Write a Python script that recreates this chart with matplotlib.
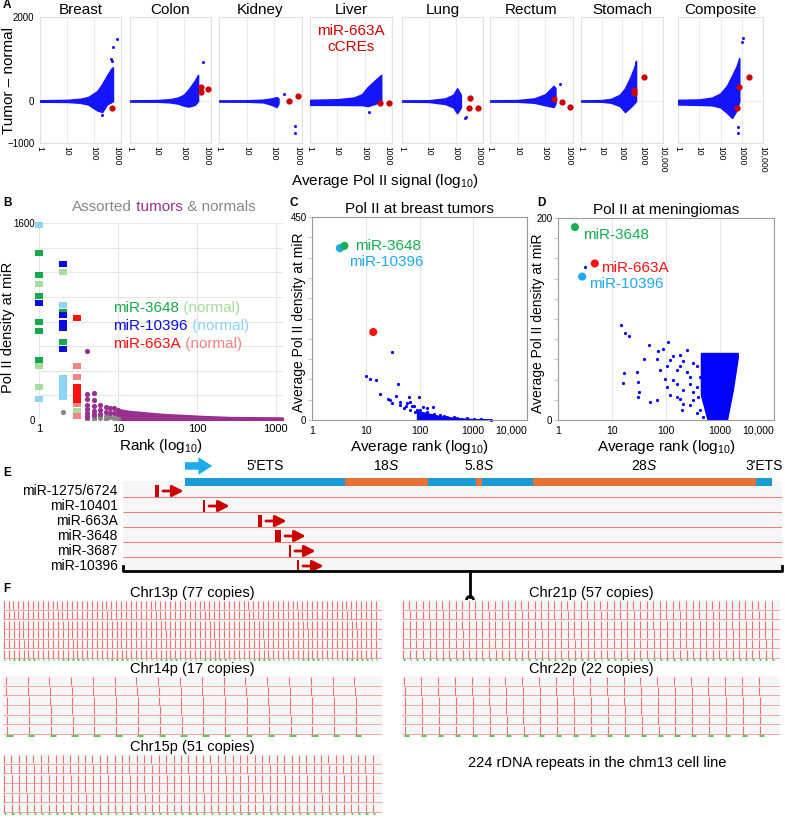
import numpy as np
import matplotlib
matplotlib.use('Agg')
import matplotlib.pyplot as plt
from matplotlib.patches import Rectangle, Arc
from matplotlib.ticker import NullLocator
import matplotlib.transforms as mtransforms

plt.rcParams['font.family'] = ['Liberation Sans', 'DejaVu Sans']
plt.rcParams['mathtext.fontset'] = 'custom'
plt.rcParams['mathtext.rm'] = 'Liberation Sans'
plt.rcParams['mathtext.it'] = 'Liberation Sans:italic'

# ---------------- data ----------------
# A: tumor - normal vs average Pol II signal (cloud envelopes + outliers + miR-663A cCREs)
tissues = ['Breast', 'Colon', 'Kidney', 'Liver', 'Lung', 'Rectum', 'Stomach', 'Composite']
a_xmax = [1000, 1000, 1000, 1000, 1000, 1000, 10000, 10000]

breast_x = [1, 10, 30, 60, 130, 200, 300, 450, 500]
breast_hi = [15, 25, 50, 90, 230, 400, 600, 780, 800]
breast_lo = [-15, -20, -40, -80, -220, -260, -80, -20, 0]
colon_x = [1, 10, 30, 60, 100, 150, 250, 330]
colon_hi = [12, 20, 40, 80, 150, 280, 480, 620]
colon_lo = [-12, -15, -30, -60, -110, -130, -90, 0]
kidney_x = [1, 10, 40, 80, 120, 140]
kidney_hi = [12, 15, 30, 60, 90, 60]
kidney_lo = [-12, -15, -30, -90, -140, -60]
liver_x = [1, 10, 40, 80, 130, 250, 400]
liver_hi = [25, 40, 80, 160, 330, 500, 620]
liver_lo = [-90, -90, -95, -95, -120, -60, 0]
lung_x = [1, 10, 40, 80, 110, 150]
lung_hi = [12, 15, 60, 150, 300, 150]
lung_lo = [-12, -20, -70, -150, -290, -150]
rectum_x = [1, 10, 40, 100, 200, 230]
rectum_hi = [12, 20, 60, 160, 360, 300]
rectum_lo = [-12, -15, -40, -100, -140, -60]
stomach_x = [1, 10, 30, 80, 140, 250, 400, 480]
stomach_hi = [12, 20, 50, 150, 300, 550, 800, 950]
stomach_lo = [-12, -15, -40, -120, -260, -150, -50, 0]
composite_x = [1, 10, 40, 100, 200, 350, 600, 760]
composite_hi = [25, 35, 80, 180, 360, 600, 850, 1020]
composite_lo = [-80, -90, -100, -150, -280, -400, -200, 0]

cloud_x = [breast_x, colon_x, kidney_x, liver_x, lung_x, rectum_x, stomach_x, composite_x]
cloud_hi = [breast_hi, colon_hi, kidney_hi, liver_hi, lung_hi, rectum_hi, stomach_hi, composite_hi]
cloud_lo = [breast_lo, colon_lo, kidney_lo, liver_lo, lung_lo, rectum_lo, stomach_lo, composite_lo]

outlier_x = [[420, 450, 520, 700, 200], [500], [215, 540, 580], [140], [215, 235], [330], [],
             [670, 700, 1000, 1100]]
outlier_y = [[1000, 960, 1280, 1480, -330], [930], [160, -600, -760], [-260], [-400, -380], [400], [],
             [-620, -760, 1400, 1500]]
ccre_x = [[450], [420, 420, 780], [330, 710], [360, 780], [330, 300, 650], [200, 390, 770],
          [1200, 390, 390], [2100, 760, 580]]
ccre_y = [[-160], [330, 210, 285], [0, 115], [-50, -50], [75, -160, -160], [40, -20, -140],
          [580, 260, 190], [580, 330, -170]]

# B: Pol II density at miR vs rank
b3648_rank = [1, 1, 1, 1, 1, 1, 2, 2]
b3648_val = [1355, 1177, 1007, 796, 723, 487, 877, 633]
b3648n_rank = [1, 1, 1, 2, 3]
b3648n_val = [1104, 438, 268, 1202, 73]
b10396_rank = [1, 2, 2, 2, 2, 2]
b10396_val = [950, 1267, 850, 790, 747, 576]
b10396n_rank = [1, 1, 2, 2, 2, 2, 2, 2]
b10396n_val = [1580, 170, 934, 340, 300, 260, 220, 190]
b663_rank = [3, 3, 3, 3, 3]
b663_val = [828, 268, 230, 195, 162]
b663n_rank = [3, 3, 3, 3]
b663n_val = [438, 349, 130, 32]
other_t_rank = [4, 4, 4, 4, 4, 4, 4, 5, 5, 5, 5, 5, 6, 6, 6, 7, 7, 8, 8, 9, 9, 10, 10]
other_t_val = [560, 211, 170, 122, 89, 57, 24, 219, 162, 114, 73, 41, 122, 81, 49, 105, 65, 97, 57, 97, 57, 81, 45]
other_n_rank = [2, 4, 4, 4, 5, 5, 5, 6, 6, 7, 7, 8, 9, 10]
other_n_val = [65, 40, 25, 10, 45, 28, 12, 35, 15, 30, 12, 25, 20, 18]
tail_rank = [10, 14, 37, 120, 260, 1200]
tail_hi = [80, 65, 41, 24, 16, 12]

# C: breast tumors
c_rank = [10.2, 12.1, 15.7, 18.1, 31.2, 39.3, 25.5, 27.9, 37, 31, 44, 59, 96, 74, 181, 104, 139, 245,
          437, 780, 1380, 2120, 68, 52, 84, 118, 165, 330, 44, 55, 78, 90, 112, 139, 150, 185, 214,
          284, 350, 505, 580, 1030, 68, 63]
c_val = [98, 90, 89, 57, 151, 80, 47, 44, 53, 37, 33, 38, 50, 31, 28, 22, 18, 11,
         7, 4, 2, 0, 22, 26, 18, 29, 11, 6, 41, 30, 30, 22, 15, 26, 7, 13, 7,
         9, 4, 4, 1.5, 1.5, 41, 52]
c_band_rank = [90, 150, 250, 500, 1000, 2100]
c_band_hi = [20, 14, 8, 4, 2, 1]
c_mir_rank = [3.3, 4.0, 13.8]
c_mir_val = [381, 386, 195]

# D: meningiomas
d_rank = [3.16, 14.5, 17.4, 20.4, 48.4, 16.7, 15.8, 28.7, 30.8, 31.3, 30.8, 39.6, 67, 72, 89, 110,
          50.6, 67, 96, 103, 158, 208, 118, 182, 240, 318, 277, 370, 318, 426, 158, 118, 195,
          136, 182, 208, 158, 240, 136, 277, 208, 318, 182, 277, 370, 490, 103, 77, 370, 426, 390,
          458, 490]
d_val = [151, 94, 86, 83, 74, 47, 37, 48, 38, 28, 23, 60, 60, 68, 70, 77,
         18, 20, 41, 33, 23, 16, 59, 53, 69, 56, 43, 33, 20, 10, 36, 25, 10,
         63, 64, 58, 50, 48, 40, 36, 30, 28, 21, 15, 7, 3, 53, 50, 53, 43, 23,
         61, 35]
d_block_rank = [450, 600, 1320, 1700, 2100]
d_block_lo = [25, 0, 0, 30, 62]
d_block_hi = [66, 66, 66, 66, 66]
d_mir_rank = [2.06, 4.8, 2.8]
d_mir_val = [191, 155, 142]

# E: rDNA unit (bp) and miR positions relative to TSS
seg_names = ["5'ETS", r'18$\mathit{S}$', '', r'5.8$\mathit{S}$', '', r'28$\mathit{S}$', "3'ETS"]
seg_len = [3656, 1869, 1095, 157, 1155, 5070, 361]
mir_names = ['miR-1275/6724', 'miR-10401', 'miR-663A', 'miR-3648', 'miR-3687', 'miR-10396']
mir_pos = [-683, 421, 1663, 2050, 2380, 2563]
mir_len = [90, 35, 90, 140, 35, 35]

# F: rDNA copies per chromosome arm (chm13)
chr_names = ['Chr13p', 'Chr14p', 'Chr15p', 'Chr21p', 'Chr22p']
chr_copies = [77, 17, 51, 57, 22]
REPEAT_BP = 44838
UNIT_BP = 13363

# ---------------- colours ----------------
BLUE = '#1414ff'
RED = '#cc0000'
GREEN = '#16a84a'
LGREEN = '#a6dd9c'
DBLUE = '#0a0ae6'
LBLUE = '#8fd3f5'
BRED = '#ff1010'
PINK = '#f78484'
PURPLE = '#99308f'
GRAY = '#888888'
CYAN = '#1eaaee'

W, H = 785, 818
fig = plt.figure(figsize=(W / 100, H / 100), dpi=100)


def box(l, t, r, b):
    return [l / W, 1 - b / H, (r - l) / W, (b - t) / H]


def tick_label(v):
    return '10,000' if v == 10000 else str(v)


# ---------------- A ----------------
a_left = [40, 130, 219, 310, 402, 490, 581, 678]
a_right = [121, 211, 302, 392, 483, 573, 663, 763]
for i, name in enumerate(tissues):
    ax = fig.add_axes(box(a_left[i], 17, a_right[i], 143))
    ax.set_xscale('log')
    ax.set_xlim(1, a_xmax[i])
    ax.set_ylim(-1000, 2000)
    ax.fill_between(cloud_x[i], cloud_lo[i], cloud_hi[i], color=BLUE, lw=1.2, zorder=3)
    ax.plot(outlier_x[i], outlier_y[i], 'o', ms=2.2, color=BLUE, mec='none', zorder=3)
    ax.plot(ccre_x[i], ccre_y[i], 'o', ms=4.5, color=RED, mec='none', zorder=4, clip_on=False)
    ticks = [1, 10, 100, 1000] + ([10000] if a_xmax[i] > 1000 else [])
    ax.set_xticks(ticks)
    ax.set_xticklabels([tick_label(t) for t in ticks], rotation=-90, fontsize=6.2)
    if a_xmax[i] == 1000:
        ax.get_xticklabels()[-1].set_ha('right')
    ax.xaxis.set_minor_locator(NullLocator())
    ax.set_yticks([-1000, 0, 2000])
    if i == 0:
        ax.set_yticklabels(['\u22121000', '0', '2000'], fontsize=7)
        ax.set_ylabel('Tumor \u2013 normal', fontsize=11)
        ax.yaxis.set_label_coords(-0.30, 0.5)
    else:
        ax.set_yticklabels([])
    ax.tick_params(axis='x', length=0, pad=2)
    ax.tick_params(axis='y', length=0, pad=4)
    ax.grid(True, color='#ebebeb', lw=0.8)
    ax.set_axisbelow(True)
    for s in ax.spines.values():
        s.set_color('#e2e2e2')
    ax.set_title(name, fontsize=11, pad=1.5)
    if name == 'Liver':
        ax.text(0.5, 0.825, 'miR-663A\ncCREs', transform=ax.transAxes, ha='center', va='center',
                color=RED, fontsize=11, linespacing=1.25)

fig.text(385 / W, 1 - 181 / H, r'Average Pol II signal (log$_{10}$)', ha='center', va='center', fontsize=11)

# ---------------- B ----------------
axB = fig.add_axes(box(39, 223, 283, 420))
axB.set_xscale('log')
axB.set_xlim(1, 1230)
axB.set_ylim(0, 1600)
rect = [(-1, -0.75), (1, -0.75), (1, 0.75), (-1, 0.75), (-1, -0.75)]
axB.fill_between(tail_rank, 0, tail_hi, color=PURPLE, lw=2.5, zorder=3)
axB.scatter(other_n_rank, other_n_val, s=14, color=GRAY, lw=0, zorder=3)
axB.scatter(other_t_rank, other_t_val, s=14, color=PURPLE, lw=0, zorder=4)
for rk, vl, col in [(b3648n_rank, b3648n_val, LGREEN), (b10396n_rank, b10396n_val, LBLUE),
                    (b663n_rank, b663n_val, PINK), (b3648_rank, b3648_val, GREEN),
                    (b10396_rank, b10396_val, DBLUE), (b663_rank, b663_val, BRED)]:
    axB.scatter(rk, vl, s=40, marker=rect, color=col, lw=0, zorder=5, clip_on=False)
axB.set_xticks([1, 10, 100, 1000])
axB.set_xticklabels(['1', '10', '100', '1000'], fontsize=8)
axB.xaxis.set_minor_locator(NullLocator())
axB.set_yticks(range(0, 1601, 200))
axB.set_yticklabels(['0'] + [''] * 7 + ['1600'], fontsize=7)
axB.tick_params(length=0, pad=3)
axB.grid(True, color='#e6e6e6', lw=0.8)
axB.set_axisbelow(True)
for s in axB.spines.values():
    s.set_visible(False)
axB.set_xlabel(r'Rank (log$_{10}$)', fontsize=11, labelpad=2)
axB.set_ylabel('Pol II density at miR', fontsize=10.5)
axB.yaxis.set_label_coords(-0.098, 0.47)

t = fig.text(72 / W, 1 - 211 / H, 'Assorted', color=GRAY, fontsize=11, va='baseline')
t = axB.annotate(' tumors', xy=(1, 0), xycoords=t, va='bottom', color=PURPLE, fontsize=11)
axB.annotate(' & normals', xy=(1, 0), xycoords=t, va='bottom', color=GRAY, fontsize=11)

for (lab, c1, c2, yb) in [('miR-3648', GREEN, LGREEN, 312), ('miR-10396', DBLUE, LBLUE, 330),
                          ('miR-663A', BRED, PINK, 348)]:
    t = fig.text(113 / W, 1 - yb / H, lab, color=c1, fontsize=11, va='baseline')
    axB.annotate(' (normal)', xy=(1, 0), xycoords=t, va='bottom', color=c2, fontsize=11)


# ---------------- C & D ----------------
def rank_axes(rect_px, ymax, ystep, title, ylab_x):
    ax = fig.add_axes(box(*rect_px))
    ax.set_xscale('log')
    ax.set_xlim(1, 10000)
    ax.set_ylim(0, ymax)
    ax.set_xticks([1, 10, 100, 1000, 10000])
    ax.set_xticklabels(['1', '10', '100', '1000', '10,000'], fontsize=7.5)
    ax.get_xticklabels()[-1].set_ha('right')
    ax.xaxis.set_minor_locator(NullLocator())
    yt = np.arange(0, ymax + 1, ystep)
    ax.set_yticks(yt)
    ax.set_yticklabels(['0'] + [''] * (len(yt) - 2) + [str(ymax)], fontsize=7)
    ax.tick_params(axis='y', length=3, color='#c8c8c8', pad=1)
    ax.tick_params(axis='x', length=0, pad=4)
    ax.grid(True, axis='x', color='#e6e6e6', lw=0.8)
    ax.set_axisbelow(True)
    for s in ax.spines.values():
        s.set_color('#9a9a9a')
    ax.set_title(title, fontsize=11, pad=3)
    ax.set_xlabel(r'Average rank (log$_{10}$)', fontsize=11, labelpad=2)
    ax.set_ylabel('Average Pol II density at miR', fontsize=10)
    ax.yaxis.set_label_coords(ylab_x, 0.48)
    return ax


axC = rank_axes((312, 217, 527, 420), 450, 45, 'Pol II at breast tumors', -0.03)
axC.fill_between(c_band_rank, 0, c_band_hi, color='#0000ff', lw=1)
axC.plot(c_rank, c_val, 'o', ms=2.3, color='#0000ff', mec='none', clip_on=False)
axC.scatter(c_mir_rank, c_mir_val, s=34, color=[CYAN, '#14b050', BRED], lw=0, zorder=4)
axC.text(6.3, 386, 'miR-3648', color='#14b050', fontsize=11, va='center')
axC.text(4.9, 351, 'miR-10396', color=CYAN, fontsize=11, va='center')

axD = rank_axes((558, 218, 774, 420), 200, 20, 'Pol II at meningiomas', -0.058)
axD.fill_between(d_block_rank, d_block_lo, d_block_hi, color='#0000ff', lw=1.5)
axD.plot(d_rank, d_val, 'o', ms=2.3, color='#0000ff', mec='none')
axD.scatter(d_mir_rank, d_mir_val, s=34, color=['#14b050', BRED, CYAN], lw=0, zorder=4)
axD.text(2.9, 183, 'miR-3648', color='#14b050', fontsize=11, va='center')
axD.text(6.4, 150, 'miR-663A', color=BRED, fontsize=11, va='center')
axD.text(3.7, 135, 'miR-10396', color=CYAN, fontsize=11, va='center')

# ---------------- E ----------------
axE = fig.add_axes(box(123, 455, 782, 572))
axE.set_xlim(-1412, 13600)
axE.set_ylim(5.4, -2.4)
axE.axis('off')
axE.add_patch(Rectangle((-1412, -0.67), 15012, 6.07, color='#f6f6f6', lw=0, zorder=0))
axE.hlines(np.arange(len(mir_names) - 1) + 0.4, -1412, 13600, color='#ee8080', lw=0.8, zorder=1)
starts = np.concatenate([[0], np.cumsum(seg_len)[:-1]])
seg_cols = ['#1a9ad6' if k % 2 == 0 else '#e97133' for k in range(len(seg_len))]
axE.barh(-0.6, seg_len, left=starts, height=0.55, color=seg_cols, lw=0, zorder=2)
for name, st, ln in zip(seg_names, starts, seg_len):
    if name:
        axE.text(st + ln / 2, -1.7, name, ha='center', va='center', fontsize=10)
axE.annotate('', xy=(620, -1.67), xytext=(0, -1.67),
             arrowprops=dict(arrowstyle='simple,head_width=1.4,head_length=1.1,tail_width=0.6',
                             color='#1eaaee', lw=0, shrinkA=0, shrinkB=0, mutation_scale=9))
trans = mtransforms.blended_transform_factory(axE.transAxes, axE.transData)
for r, (name, pos, ln) in enumerate(zip(mir_names, mir_pos, mir_len)):
    axE.add_patch(Rectangle((pos, r - 0.4), ln, 0.8, color=RED, lw=0, zorder=3))
    a0 = pos + ln + 90
    axE.annotate('', xy=(a0 + 470, r), xytext=(a0, r),
                 arrowprops=dict(arrowstyle='-|>,head_width=0.28,head_length=0.55', color=RED, lw=2,
                                 shrinkA=0, shrinkB=0, mutation_scale=12))
    axE.text(-0.008, r, name, transform=trans, ha='right', va='center', fontsize=10)

# ---------------- F ----------------
f_boxes = [(3, 600, 382, 661), (3, 676, 382, 737), (3, 754, 382, 815),
           (402, 600, 780, 661), (402, 676, 780, 737)]
for name, n, bx in zip(chr_names, chr_copies, f_boxes):
    ax = fig.add_axes(box(*bx))
    ax.set_xlim(-0.14, n + 0.25)
    ax.set_ylim(6.3, 0)
    ax.axis('off')
    ax.add_patch(Rectangle((-0.14, 0), n + 0.39, 6.0, color='#f6f6f6', lw=0, zorder=0))
    copies = np.arange(n)
    for k in range(len(mir_pos)):
        ax.vlines(copies + mir_pos[k] / REPEAT_BP, k + 0.12, k + 0.95, color='#ee6f6f', lw=0.8, zorder=2)
        ax.hlines(k + 1, -0.14, n + 0.25, color='#f4a6a6', lw=0.7, zorder=1)
    ax.hlines(np.full(n, 6.15), copies, copies + UNIT_BP / REPEAT_BP, color='#55d055', lw=2.2, zorder=2)
    ax.set_title(f'{name} ({n} copies)', fontsize=10.5, pad=2.5)

fig.text(597 / W, 1 - 763 / H, '224 rDNA repeats in the chm13 cell line', ha='center', va='center',
         fontsize=10.5)

# ---------------- overlay: panel letters, bracket ----------------
ov = fig.add_axes([0, 0, 1, 1])
ov.set_xlim(0, W)
ov.set_ylim(H, 0)
ov.axis('off')
ov.patch.set_alpha(0)
for lab, x, y in [('A', 3, 5), ('B', 3, 203), ('C', 289, 203), ('D', 537, 203), ('E', 3, 473), ('F', 3, 589)]:
    ov.text(x, y, lab, fontsize=8.5, fontweight='bold', ha='left', va='center')
ov.plot([123, 123, 782, 782], [566, 571, 571, 566], color='black', lw=2, solid_joinstyle='round')
ov.plot([470, 470], [571, 597], color='black', lw=2)
ov.add_patch(Arc((470, 600), 7, 7, theta1=180, theta2=360, color='black', lw=2))

fig.savefig('out.png', dpi=100)
